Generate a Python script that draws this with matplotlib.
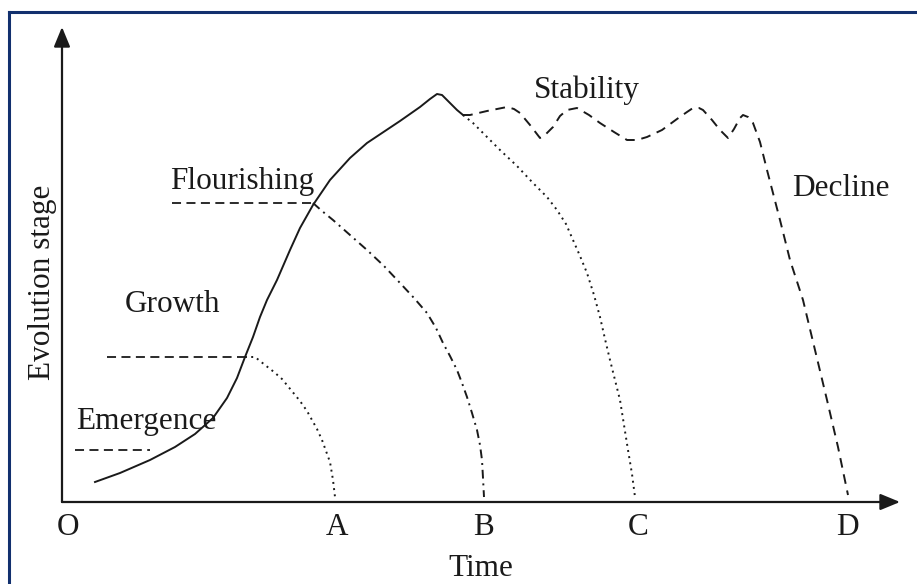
import matplotlib.pyplot as plt
from matplotlib.lines import Line2D

plt.rcParams['font.family'] = ['Liberation Serif', 'DejaVu Serif']

# main evolution curve (emergence -> peak)
main_t = [33, 58, 88, 113, 133, 151, 165, 175, 183, 191, 198, 205, 215, 228, 238,
          251, 268, 288, 305, 323, 338, 358, 368, 375, 380, 388, 395, 401]
main_s = [20, 29, 42, 55, 68, 84, 104, 124, 145, 165, 185, 202, 222, 252, 274,
          297, 322, 344, 359, 371, 381, 395, 403, 408, 407, 399, 392, 387]

# stability phase then decline (to D)
stab_t = [401, 408, 425, 445, 452, 458, 468, 478, 484, 491, 498, 505, 515, 527,
          538, 552, 565, 575, 585, 600, 615, 625, 631, 637, 641, 650, 658, 666,
          672, 678, 681, 686, 691, 698, 705, 718, 728, 741, 753, 765, 776, 786]
stab_s = [387, 387, 391, 395, 393, 389, 377, 364, 368, 375, 386, 392, 394, 387,
          379, 370, 362, 362, 365, 372, 383, 390, 394, 394, 392, 382, 372, 364,
          373, 384, 387, 385, 379, 360, 332, 282, 242, 202, 152, 102, 55, 7]

# decline after stability phase (to C)
c_t = [401, 411, 424, 438, 455, 471, 485, 495, 504, 511, 518, 525, 532, 538,
       543, 548, 553, 558, 562, 566, 570, 573]
c_s = [387, 379, 366, 352, 336, 319, 305, 292, 278, 262, 246, 229, 207, 185,
       163, 142, 122, 102, 77, 52, 28, 5]

# decline after flourishing (to B)
b_t = [251, 260, 271, 288, 305, 322, 338, 352, 365, 374, 381, 388, 395, 400,
       405, 410, 415, 418, 420, 421, 422]
b_s = [299, 291, 282, 267, 252, 236, 219, 204, 189, 174, 159, 146, 132, 119,
       105, 89, 72, 57, 42, 24, 5]

# decline after growth (to A)
a_t = [183, 193, 203, 212, 220, 229, 238, 245, 250, 255, 260, 264, 268, 271, 273]
a_s = [145, 145, 137, 130, 123, 112, 101, 91, 82, 73, 62, 51, 40, 22, 5]

# stage thresholds: (start, end, level)
emerg_line = (13, 88, 52)
growth_line = (45, 183, 145)
flour_line = (110, 251, 299)

stage_names = ['Emergence', 'Growth', 'Flourishing', 'Stability', 'Decline']
stage_t = [84, 111, 180, 525, 779]
stage_s = [81, 197, 320, 412, 314]

tick_pos = [6, 275, 421, 576, 785]
tick_labels = ['O', 'A', 'B', 'C', 'D']

fs = 22.5
ink = '#1a1a1a'

fig = plt.figure(figsize=(9.17, 5.84), dpi=100)
ax = fig.add_axes([62 / 917, 82 / 584, 838 / 917, 475 / 584])
ax.set_xlim(0, 838)
ax.set_ylim(0, 475)
for sp in ax.spines.values():
    sp.set_visible(False)

# axes with arrows
arrow = dict(arrowstyle='-|>,head_length=0.8,head_width=0.33', color=ink,
             lw=1.6, mutation_scale=15, shrinkA=0, shrinkB=0)
ax.annotate('', xy=(838, 0), xytext=(0, 0), arrowprops=arrow, annotation_clip=False)
ax.annotate('', xy=(0, 475), xytext=(0, 0), arrowprops=arrow, annotation_clip=False)

ax.plot(main_t, main_s, color=ink, lw=1.4, solid_joinstyle='round', clip_on=False)
ax.plot(stab_t, stab_s, color=ink, lw=1.4, linestyle=(0, (5, 3.5)), clip_on=False)
ax.plot(c_t, c_s, color=ink, lw=1.4, linestyle=(0, (1, 2.2)), clip_on=False)
ax.plot(b_t, b_s, color=ink, lw=1.4, linestyle=(0, (4.5, 2.5, 1, 2.5)), clip_on=False)
ax.plot(a_t, a_s, color=ink, lw=1.4, linestyle=(0, (1, 2.2)), clip_on=False)

for x0, x1, lvl in [emerg_line, growth_line, flour_line]:
    ax.plot([x0, x1], [lvl, lvl], color=ink, lw=1.3, linestyle=(0, (5, 3)))

for name, t, s in zip(stage_names, stage_t, stage_s):
    ax.text(t, s, name, fontsize=fs, ha='center', va='center', color=ink)

ax.set_xticks(tick_pos)
ax.set_xticklabels(tick_labels, fontsize=fs, color=ink)
ax.set_yticks([])
ax.tick_params(axis='x', length=0, pad=8)

ax.set_xlabel('Time', fontsize=fs, color=ink)
ax.xaxis.set_label_coords(0.5, -0.11)
ax.set_ylabel('Evolution stage', fontsize=fs, color=ink)
ax.yaxis.set_label_coords(-0.006, 0.463)

# dark blue frame (top and left edges)
frame = '#12306e'
fig.add_artist(Line2D([9 / 917, 1], [1 - 12 / 584, 1 - 12 / 584], color=frame, lw=2.2,
                      transform=fig.transFigure))
fig.add_artist(Line2D([9 / 917, 9 / 917], [0, 1 - 12 / 584], color=frame, lw=2.2,
                      transform=fig.transFigure))

fig.savefig('out.png', dpi=100)
